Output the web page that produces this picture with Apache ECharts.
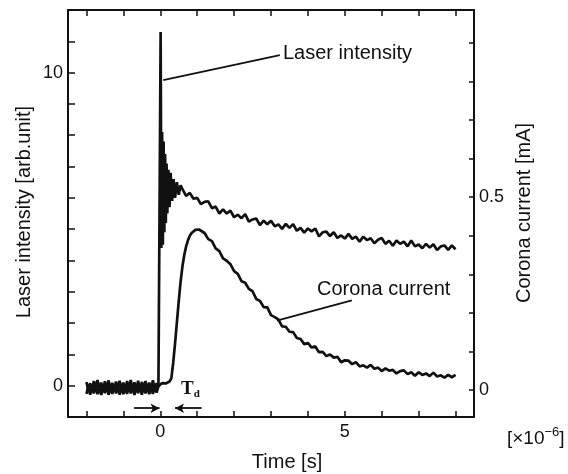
<!DOCTYPE html>
<html>
<head>
<meta charset="utf-8">
<script src="https://cdn.jsdelivr.net/npm/echarts@6/dist/echarts.min.js"></script>
<style>
html,body{margin:0;padding:0;background:#fff;}
#c{width:568px;height:474px;}
</style>
</head>
<body>
<div id="c"></div>
<script>
// ---- data (time in microseconds) ----
const laserTime = [
  -2.0,-1.95,-1.9,-1.85,-1.8,-1.75,-1.7,-1.65,-1.6,-1.55,-1.5,-1.45,-1.4,-1.35,-1.3,-1.25,-1.2,-1.15,-1.1,-1.05,
  -1.0,-0.95,-0.9,-0.85,-0.8,-0.75,-0.7,-0.65,-0.6,-0.55,-0.5,-0.45,-0.4,-0.35,-0.3,-0.25,-0.2,-0.15,-0.1,-0.05,
  0.0,0.01,0.03,0.05,0.07,0.09,0.11,0.13,0.15,0.17,0.19,0.22,0.25,0.28,0.32,0.36,0.40,0.45,0.50,0.55,
  0.6,0.7,0.8,0.9,1.0,1.1,1.2,1.3,1.4,1.5,1.6,1.7,1.8,1.9,2.0,2.1,2.2,2.3,2.4,2.5,2.6,2.7,2.8,2.9,
  3.0,3.1,3.2,3.3,3.4,3.5,3.6,3.7,3.8,3.9,4.0,4.1,4.2,4.3,4.4,4.5,4.6,4.7,4.8,4.9,
  5.0,5.1,5.2,5.3,5.4,5.5,5.6,5.7,5.8,5.9,6.0,6.1,6.2,6.3,6.4,6.5,6.6,6.7,6.8,6.9,
  7.0,7.1,7.2,7.3,7.4,7.5,7.6,7.7,7.8,7.9,8.0
];
const laserValues = [
  0.12,-0.15,0.08,-0.18,0.15,-0.1,0.18,-0.14,0.1,-0.16,0.14,-0.12,0.17,-0.15,0.09,-0.18,0.13,-0.11,0.16,-0.14,
  0.1,-0.17,0.15,-0.12,0.18,-0.15,0.11,-0.13,0.16,-0.17,0.12,-0.1,0.15,-0.16,0.1,-0.14,0.17,-0.12,0.08,-0.05,
  0.0,11.3,4.4,8.1,4.5,7.8,4.9,7.4,5.2,7.1,5.5,6.9,5.7,6.8,5.9,6.6,6.0,6.5,6.1,6.4,
  6.28,6.06,6.16,5.97,6.00,5.80,5.87,5.89,5.67,5.72,5.50,5.63,5.50,5.59,5.38,5.46,5.35,5.48,5.24,5.31,5.34,5.13,5.27,5.16,
  5.27,5.09,5.15,5.01,5.17,5.04,5.16,4.95,5.04,4.89,5.02,4.93,5.02,4.77,4.90,4.92,4.78,4.90,4.72,4.80,
  4.70,4.85,4.69,4.76,4.60,4.76,4.65,4.71,4.55,4.66,4.72,4.53,4.63,4.47,4.64,4.53,4.60,4.45,4.64,4.45,
  4.51,4.39,4.53,4.41,4.52,4.33,4.45,4.48,4.34,4.48,4.36
];
const coronaTime = [
  -2.0,-1.95,-1.9,-1.85,-1.8,-1.75,-1.7,-1.65,-1.6,-1.55,-1.5,-1.45,-1.4,-1.35,-1.3,-1.25,-1.2,-1.15,-1.1,-1.05,
  -1.0,-0.95,-0.9,-0.85,-0.8,-0.75,-0.7,-0.65,-0.6,-0.55,-0.5,-0.45,-0.4,-0.35,-0.3,-0.25,-0.2,-0.15,-0.1,-0.05,
  0.0,0.05,0.1,0.15,0.2,0.25,0.3,0.35,0.4,0.45,0.5,0.55,0.6,0.65,0.7,0.75,0.8,0.85,0.9,0.95,1.0,1.05,1.1,
  1.2,1.3,1.4,1.5,1.6,1.7,1.8,1.9,2.0,2.1,2.2,2.3,2.4,2.5,2.6,2.7,2.8,2.9,
  3.0,3.1,3.2,3.3,3.4,3.5,3.6,3.7,3.8,3.9,4.0,4.1,4.2,4.3,4.4,4.5,4.6,4.7,4.8,4.9,
  5.0,5.1,5.2,5.3,5.4,5.5,5.6,5.7,5.8,5.9,6.0,6.1,6.2,6.3,6.4,6.5,6.6,6.7,6.8,6.9,
  7.0,7.1,7.2,7.3,7.4,7.5,7.6,7.7,7.8,7.9,8.0
];
const coronaValues = [
  -0.01,0.01,-0.012,0.008,-0.009,0.012,-0.011,0.006,-0.013,0.01,-0.008,0.011,-0.012,0.009,-0.01,0.012,-0.009,0.007,-0.012,0.01,
  -0.011,0.008,-0.01,0.012,-0.009,0.01,-0.013,0.009,-0.008,0.011,-0.012,0.01,-0.009,0.012,-0.011,0.008,-0.01,0.011,-0.007,0.01,
  0.015,0.018,0.02,0.017,0.021,0.022,0.03,0.07,0.12,0.175,0.23,0.28,0.32,0.35,0.372,0.388,0.4,0.407,0.412,0.415,0.416,0.416,0.414,
  0.407,0.391,0.386,0.367,0.360,0.341,0.335,0.326,0.308,0.301,0.282,0.278,0.262,0.256,0.236,0.231,0.215,0.214,
  0.194,0.189,0.183,0.165,0.164,0.151,0.150,0.135,0.132,0.119,0.122,0.110,0.113,0.098,0.099,0.088,0.092,0.084,0.086,0.072,
  0.077,0.076,0.067,0.072,0.061,0.064,0.058,0.065,0.055,0.058,0.049,0.056,0.050,0.052,0.043,0.049,0.051,0.041,0.046,0.037,
  0.046,0.039,0.043,0.036,0.045,0.035,0.038,0.032,0.039,0.033,0.039
];
const xTicks = [-2,-1,0,1,2,3,4,5,6,7,8];
const xTickLabels = [0,5];
const leftTickLabels = [0,10];
const rightTicks = [0,0.1,0.2,0.3,0.4,0.5,0.6,0.7,0.8,0.9];
const rightTickLabels = [0,0.5];

const ink = '#111111';
const font = '"Liberation Sans", Arial, Helvetica, sans-serif';
const serif = '"Liberation Serif", "Times New Roman", serif';

const chart = echarts.init(document.getElementById('c'), null, {renderer:'canvas'});
const laserData = laserTime.map((t,i)=>[t, laserValues[i]]);
const coronaData = coronaTime.map((t,i)=>[t, coronaValues[i]]);

const xCommon = {
  type:'value', min:-2.5, max:8.5,
  splitLine:{show:false},
  axisLine:{show:true, onZero:false, lineStyle:{color:ink, width:2}},
  axisTick:{show:true, inside:true, length:6, customValues:xTicks, lineStyle:{color:ink, width:1.5}}
};

const leader = {color:ink, width:1.8, type:'solid'};

chart.setOption({
  animation:false,
  backgroundColor:'#ffffff',
  grid:{left:68, right:94, top:10, bottom:57, containLabel:false},
  xAxis:[
    Object.assign({}, xCommon, {
      position:'bottom',
      axisLabel:{show:true, customValues:xTickLabels, margin:6, color:ink, fontSize:18, fontFamily:font}
    }),
    Object.assign({}, xCommon, {
      position:'top',
      axisLabel:{show:false}
    })
  ],
  yAxis:[
    {
      type:'value', min:-1, max:12, interval:1, position:'left',
      splitLine:{show:false},
      axisLine:{show:true, onZero:false, lineStyle:{color:ink, width:2}},
      axisTick:{show:true, inside:true, length:7, lineStyle:{color:ink, width:1.5}},
      axisLabel:{show:true, margin:5, color:ink, fontSize:18, fontFamily:font,
        formatter:v => (leftTickLabels.indexOf(v) >= 0 ? String(v) : '')}
    },
    {
      type:'value', min:-0.07, max:0.985, position:'right',
      splitLine:{show:false},
      axisLine:{show:true, onZero:false, lineStyle:{color:ink, width:2}},
      axisTick:{show:true, inside:true, length:5, customValues:rightTicks, lineStyle:{color:ink, width:1.5}},
      axisLabel:{show:true, margin:5, color:ink, fontSize:18, fontFamily:font, customValues:rightTickLabels,
        formatter:v => (Math.abs(v) < 1e-9 ? '0' : String(Math.round(v*10)/10))}
    }
  ],
  series:[
    {
      name:'Laser intensity', type:'line', xAxisIndex:0, yAxisIndex:0,
      data:laserData, showSymbol:false, symbol:'none',
      lineStyle:{color:ink, width:2.7}, z:3,
      markLine:{
        silent:true, symbol:'none', label:{show:false},
        lineStyle:leader,
        data:[
          [{coord:[0.08, 9.76]},{coord:[3.24, 10.56]}],
          [{coord:[-0.71, -0.72], symbol:'none'},{coord:[-0.02, -0.72], symbol:'arrow', symbolSize:[7,9]}],
          [{coord:[1.12, -0.72], symbol:'none'},{coord:[0.4, -0.72], symbol:'arrow', symbolSize:[7,9]}]
        ]
      }
    },
    {
      name:'Corona current', type:'line', xAxisIndex:0, yAxisIndex:1,
      data:coronaData, showSymbol:false, symbol:'none',
      lineStyle:{color:ink, width:2.7}, z:3,
      markLine:{
        silent:true, symbol:'none', label:{show:false},
        lineStyle:leader,
        data:[[{coord:[3.16, 0.18]},{coord:[5.19, 0.232]}]]
      }
    }
  ],
  graphic:[
    {type:'text', x:283, y:53, style:{text:'Laser intensity', font:'20px '+font, fill:ink, align:'left', verticalAlign:'middle'}},
    {type:'text', x:317, y:289, style:{text:'Corona current', font:'20px '+font, fill:ink, align:'left', verticalAlign:'middle'}},
    {type:'text', x:24, y:212, rotation:Math.PI/2, style:{text:'Laser intensity [arb.unit]', font:'20px '+font, fill:ink, align:'center', verticalAlign:'middle'}},
    {type:'text', x:524, y:213, rotation:Math.PI/2, style:{text:'Corona current [mA]', font:'20px '+font, fill:ink, align:'center', verticalAlign:'middle'}},
    {type:'text', x:287, y:462, style:{text:'Time [s]', font:'20px '+font, fill:ink, align:'center', verticalAlign:'middle'}},
    {type:'text', x:181, y:390, z:10, style:{
      text:'{t|T}{d|d}', align:'left', verticalAlign:'middle',
      rich:{
        t:{fontSize:19, fontFamily:serif, fontWeight:'bold', fill:ink, color:ink, lineHeight:20, verticalAlign:'top'},
        d:{fontSize:11, fontFamily:serif, fontWeight:'bold', fill:ink, color:ink, lineHeight:20, verticalAlign:'bottom'}
      }
    }},
    {type:'text', x:507, y:437, style:{
      text:'{a|[×10}{s|−6}{a|]}', align:'left', verticalAlign:'middle',
      rich:{
        a:{fontSize:19, fontFamily:font, fill:ink, color:ink, lineHeight:22, verticalAlign:'bottom'},
        s:{fontSize:13, fontFamily:font, fill:ink, color:ink, lineHeight:22, verticalAlign:'top'}
      }
    }}
  ]
});
</script>
</body>
</html>
